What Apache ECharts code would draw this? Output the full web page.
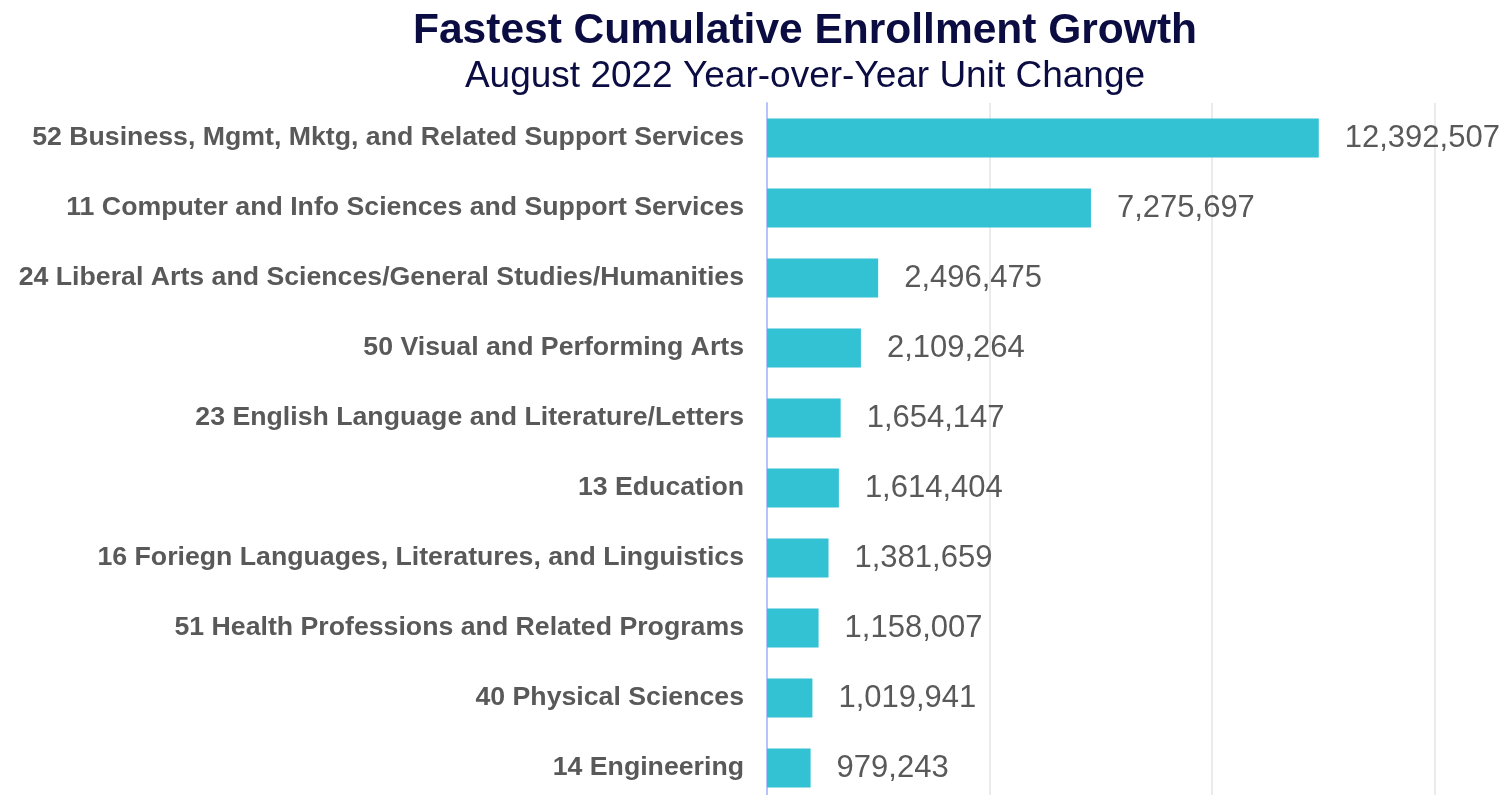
<!DOCTYPE html>
<html>
<head>
<meta charset="utf-8">
<script src="https://cdn.jsdelivr.net/npm/echarts@6/dist/echarts.min.js"></script>
<style>
  html, body { margin: 0; padding: 0; background: #ffffff; }
  #chart { width: 1507px; height: 795px; }
</style>
</head>
<body>
<div id="chart"></div>
<script>
// Programs of study, listed top to bottom
const categories = [
  '52 Business, Mgmt, Mktg, and Related Support Services',
  '11 Computer and Info Sciences and Support Services',
  '24 Liberal Arts and Sciences/General Studies/Humanities',
  '50 Visual and Performing Arts',
  '23 English Language and Literature/Letters',
  '13 Education',
  '16 Foriegn Languages, Literatures, and Linguistics',
  '51 Health Professions and Related Programs',
  '40 Physical Sciences',
  '14 Engineering'
];

// Year-over-year unit change, same order as categories
const unitChange = [
  12392507, 7275697, 2496475, 2109264, 1654147,
  1614404, 1381659, 1158007, 1019941, 979243
];

const titleText = 'Fastest Cumulative Enrollment Growth';
const subtitleText = 'August 2022 Year-over-Year Unit Change';

const FONT = '"Liberation Sans", Arial, sans-serif';

const chart = echarts.init(document.getElementById('chart'), null, { renderer: 'canvas' });

const fmt = v => v.toLocaleString('en-US');

chart.setOption({
  animation: false,
  backgroundColor: '#ffffff',
  title: [{
    text: titleText,
    left: 800,
    top: 5,
    textAlign: 'center',
    textStyle: {
      fontFamily: FONT,
      fontSize: 42.5,
      fontWeight: 'bold',
      color: '#0b0c42'
    }
  }, {
    text: subtitleText,
    left: 800,
    top: 53,
    textAlign: 'center',
    textStyle: {
      fontFamily: FONT,
      fontSize: 37,
      fontWeight: 'normal',
      color: '#0b0c42'
    }
  }],
  grid: {
    left: 767,
    top: 103,
    right: 0,
    bottom: -8,
    containLabel: false,
    outerBoundsMode: 'none'
  },
  xAxis: {
    type: 'value',
    min: 0,
    max: 16620000,
    interval: 5000000,
    axisLine: { show: false },
    axisTick: { show: false },
    axisLabel: { show: false },
    splitLine: {
      show: true,
      showMinLine: false,
      showMaxLine: false,
      lineStyle: { color: '#ebebeb', width: 2 }
    }
  },
  yAxis: {
    type: 'category',
    inverse: true,
    data: categories,
    axisLine: { show: true, lineStyle: { color: '#b7c3fb', width: 2 } },
    axisTick: { show: false },
    axisLabel: {
      margin: 23,
      fontFamily: FONT,
      fontSize: 26.7,
      fontWeight: 'bold',
      color: '#595959'
    }
  },
  series: [{
    type: 'bar',
    data: unitChange,
    barWidth: 39,
    itemStyle: { color: '#33c1d4' },
    label: {
      show: true,
      position: 'right',
      distance: 26,
      formatter: p => fmt(p.value),
      fontFamily: FONT,
      fontSize: 31,
      color: '#595959'
    }
  }]
});
</script>
</body>
</html>
